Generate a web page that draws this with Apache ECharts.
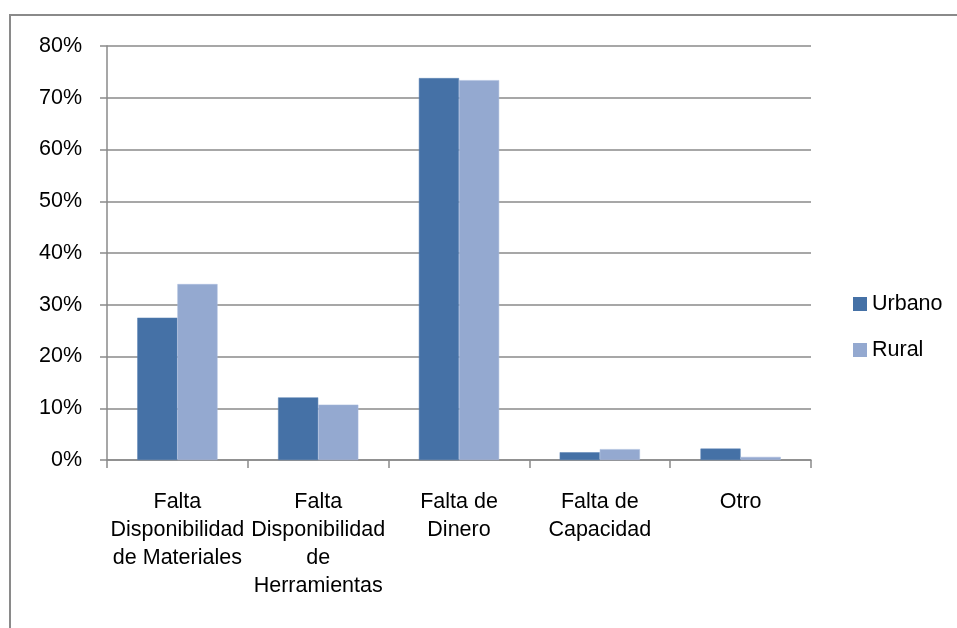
<!DOCTYPE html>
<html>
<head>
<meta charset="utf-8">
<script src="https://cdn.jsdelivr.net/npm/echarts@6/dist/echarts.min.js"></script>
<style>
  html, body { margin: 0; padding: 0; background: #fff; }
  #chart { width: 957px; height: 628px; }
</style>
</head>
<body>
<div id="chart"></div>
<script>
// Data
const categories = [
    'Falta\nDisponibilidad\nde Materiales',
    'Falta\nDisponibilidad\nde\nHerramientas',
    'Falta de\nDinero',
    'Falta de\nCapacidad',
    'Otro'
];
const urbano = [0.275, 0.121, 0.738, 0.015, 0.022];
const rural = [0.340, 0.107, 0.734, 0.021, 0.006];
const seriesNames = ['Urbano', 'Rural'];

const gray = '#8a8a8a';
const font = 'Liberation Sans, Arial, sans-serif';
const fontSize = 21.5;

const chart = echarts.init(document.getElementById('chart'));
chart.setOption({
    animation: false,
    backgroundColor: '#fff',
    graphic: [{
        type: 'rect',
        shape: { x: 10, y: 15, width: 960, height: 640 },
        style: { fill: 'none', stroke: gray, lineWidth: 2 },
        silent: true
    }],
    legend: {
        data: seriesNames,
        orient: 'vertical',
        left: 853,
        top: 293,
        padding: 0,
        itemWidth: 14,
        itemHeight: 14,
        itemGap: 24,
        icon: 'rect',
        itemStyle: { borderWidth: 0 },
        textStyle: { fontFamily: font, fontSize: fontSize, color: '#000' }
    },
    grid: { left: 107, right: 146, top: 46, bottom: 168 },
    xAxis: {
        type: 'category',
        data: categories,
        axisLine: { lineStyle: { color: gray, width: 1.5 } },
        axisTick: { show: true, length: 8, lineStyle: { color: gray, width: 1.5 } },
        axisLabel: {
            interval: 0,
            margin: 28,
            color: '#000',
            fontFamily: font,
            fontSize: fontSize,
            lineHeight: 28
        }
    },
    yAxis: {
        type: 'value',
        min: 0,
        max: 0.8,
        interval: 0.1,
        axisLine: { show: true, lineStyle: { color: gray, width: 1.5 } },
        axisTick: { show: true, length: 7, lineStyle: { color: gray, width: 1.5 } },
        splitLine: { lineStyle: { color: gray, width: 1.5 } },
        axisLabel: {
            margin: 25,
            color: '#000',
            fontFamily: font,
            fontSize: fontSize,
            formatter: v => Math.round(v * 100) + '%'
        }
    },
    series: [
        {
            name: seriesNames[0],
            type: 'bar',
            data: urbano,
            barGap: '0%',
            barCategoryGap: '43%',
            itemStyle: { color: '#4571a6', borderColor: '#5a82b5', borderWidth: 0.5 }
        },
        {
            name: seriesNames[1],
            type: 'bar',
            data: rural,
            itemStyle: { color: '#94a9d0', borderColor: '#a8bbdc', borderWidth: 0.5 }
        }
    ]
});
</script>
</body>
</html>
